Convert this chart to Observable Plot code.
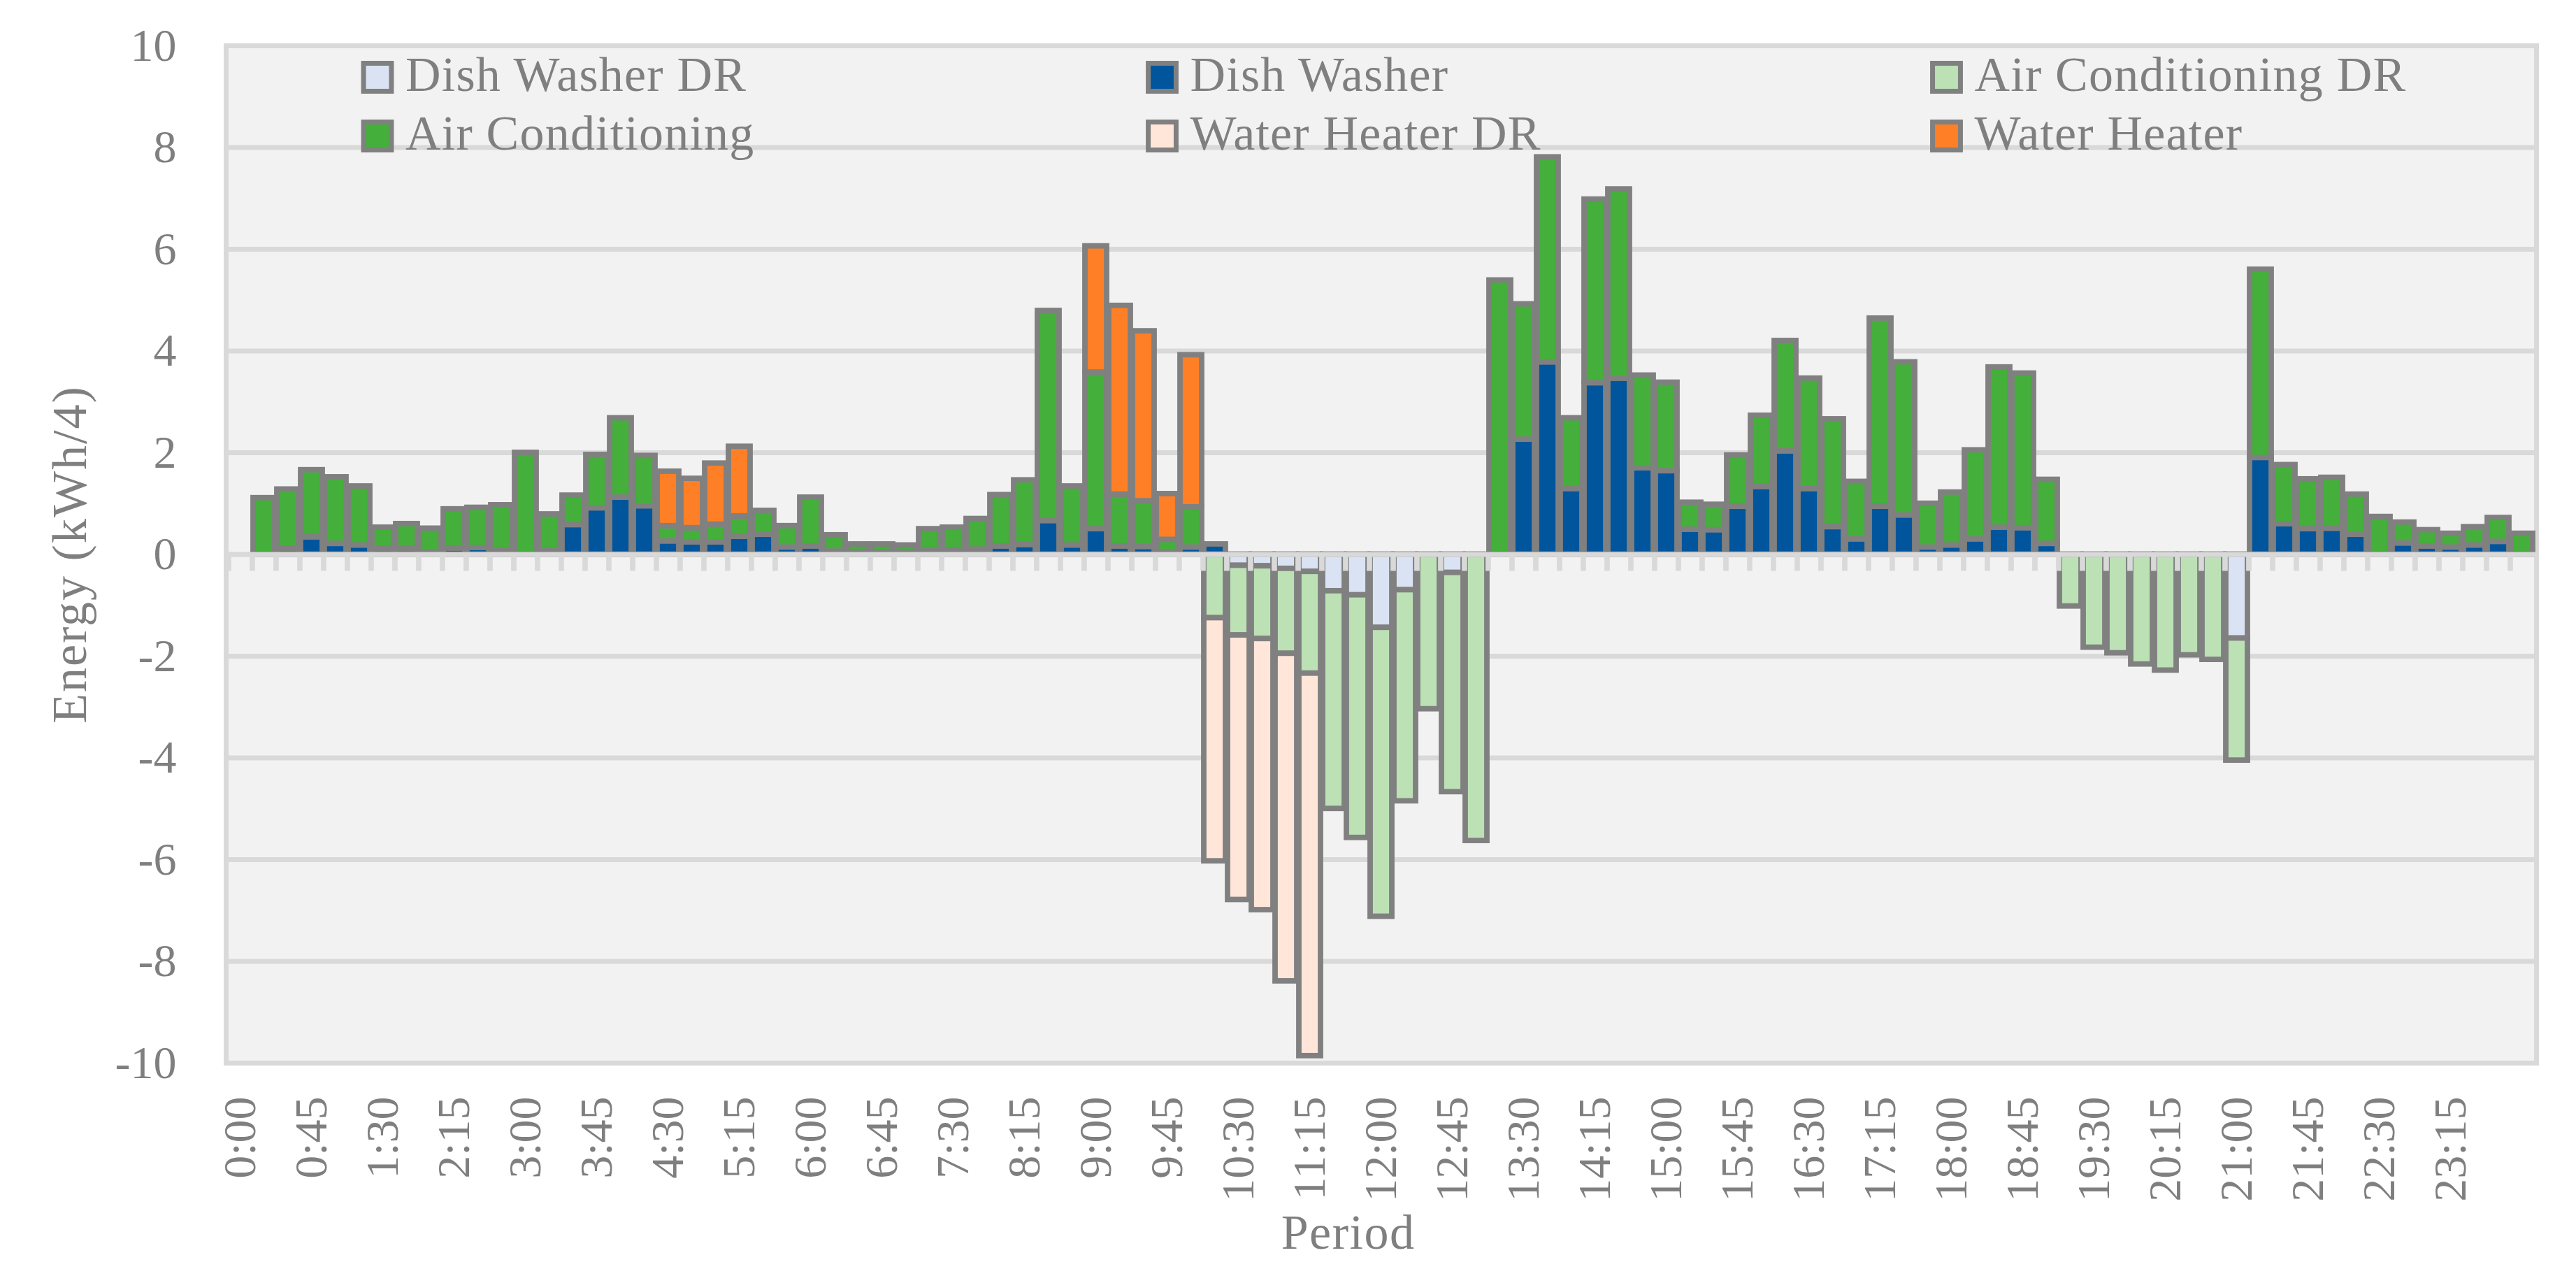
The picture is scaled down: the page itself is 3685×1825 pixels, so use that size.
<!DOCTYPE html>
<html>
<head>
<meta charset="utf-8">
<script src="https://cdn.jsdelivr.net/npm/d3@7"></script>
<script src="https://cdn.jsdelivr.net/npm/@observablehq/plot@0.6"></script>
<style>
  html, body { margin: 0; padding: 0; background: #ffffff; overflow: hidden; }
  #chart svg { display: block; }
</style>
</head>
<body>
<div id="chart"></div>
<script>
// ---------- categories (15-minute periods) ----------
const periods = ["0:00","0:15","0:30","0:45","1:00","1:15","1:30","1:45","2:00","2:15","2:30","2:45",
  "3:00","3:15","3:30","3:45","4:00","4:15","4:30","4:45","5:00","5:15","5:30","5:45",
  "6:00","6:15","6:30","6:45","7:00","7:15","7:30","7:45","8:00","8:15","8:30","8:45",
  "9:00","9:15","9:30","9:45","10:00","10:15","10:30","10:45","11:00","11:15","11:30","11:45",
  "12:00","12:15","12:30","12:45","13:00","13:15","13:30","13:45","14:00","14:15","14:30","14:45",
  "15:00","15:15","15:30","15:45","16:00","16:15","16:30","16:45","17:00","17:15","17:30","17:45",
  "18:00","18:15","18:30","18:45","19:00","19:15","19:30","19:45","20:00","20:15","20:30","20:45",
  "21:00","21:15","21:30","21:45","22:00","22:15","22:30","22:45","23:00","23:15","23:30","23:45","24:00"];

// tick labels shown on the x axis
const xTickLabels = ["0:00","0:45","1:30","2:15","3:00","3:45","4:30","5:15","6:00","6:45","7:30","8:15",
  "9:00","9:45","10:30","11:15","12:00","12:45","13:30","14:15","15:00","15:45","16:30","17:15",
  "18:00","18:45","19:30","20:15","21:00","21:45","22:30","23:15"];

const yTicks = [-10, -8, -6, -4, -2, 0, 2, 4, 6, 8, 10];

// ---------- series values (kWh/4), periods 0:15 ... 24:00 ----------
const dishWasherDR = [
  0,0,0,0,0,0,0,0,0,0,0,0,
  0,0,0,0,0,0,0,0,0,0,0,0,
  0,0,0,0,0,0,0,0,0,0,0,0,
  0,0,0,0,0,-0.22,-0.23,-0.28,-0.34,-0.72,-0.80,-1.44,
  -0.70,0,-0.36,0,0,0,0,0,0,0,0,0,
  0,0,0,0,0,0,0,0,0,0,0,0,
  0,0,0,0,0,0,0,0,0,0,0,-1.65,
  0,0,0,0,0,0,0,0,0,0,0,0];

const dishWasher = [
  0,0.11,0.34,0.21,0.18,0.11,0.11,0.04,0.12,0.13,0.07,0,
  0.07,0.58,0.91,1.12,0.95,0.26,0.24,0.24,0.35,0.39,0.14,0.16,
  0.06,0.03,0.03,0.03,0.07,0.09,0.10,0.16,0.19,0.66,0.18,0.50,
  0.16,0.15,0.04,0.14,0.20,0,0,0,0,0,0,0,
  0,0,0,0,0,2.26,3.78,1.29,3.37,3.46,1.70,1.64,
  0.49,0.48,0.94,1.33,2.03,1.29,0.54,0.30,0.94,0.77,0.14,0.18,
  0.30,0.53,0.52,0.21,0,0,0,0,0,0,0,0,
  1.90,0.60,0.50,0.51,0.39,0,0.22,0.16,0.14,0.18,0.25,0];

const airConditioningDR = [
  0,0,0,0,0,0,0,0,0,0,0,0,
  0,0,0,0,0,0,0,0,0,0,0,0,
  0,0,0,0,0,0,0,0,0,0,0,0,
  0,0,0,0,-1.25,-1.37,-1.43,-1.67,-2.00,-4.28,-4.77,-5.68,
  -4.15,-3.04,-4.31,-5.63,0,0,0,0,0,0,0,0,
  0,0,0,0,0,0,0,0,0,0,0,0,
  0,0,0,0,-1.02,-1.83,-1.94,-2.16,-2.28,-1.98,-2.07,-2.40,
  0,0,0,0,0,0,0,0,0,0,0,0];

const airConditioning = [
  1.11,1.17,1.32,1.31,1.16,0.42,0.49,0.47,0.77,0.79,0.90,2.00,
  0.72,0.58,1.05,1.56,0.99,0.30,0.28,0.35,0.40,0.47,0.42,0.96,
  0.32,0.17,0.17,0.15,0.43,0.44,0.60,1.01,1.27,4.13,1.16,3.08,
  1.02,0.90,0.25,0.79,0,0,0,0,0,0,0,0,
  0,0,0,0,5.39,2.66,4.03,1.39,3.61,3.72,1.82,1.74,
  0.53,0.50,1.01,1.40,2.17,2.17,2.12,1.13,3.70,3.01,0.86,1.04,
  1.75,3.15,3.04,1.26,0,0,0,0,0,0,0,0,
  3.70,1.16,0.98,1.00,0.79,0.74,0.41,0.32,0.27,0.36,0.47,0.41];

const waterHeaterDR = [
  0,0,0,0,0,0,0,0,0,0,0,0,
  0,0,0,0,0,0,0,0,0,0,0,0,
  0,0,0,0,0,0,0,0,0,0,0,0,
  0,0,0,0,-4.78,-5.20,-5.33,-6.44,-7.52,0,0,0,
  0,0,0,0,0,0,0,0,0,0,0,0,
  0,0,0,0,0,0,0,0,0,0,0,0,
  0,0,0,0,0,0,0,0,0,0,0,0,
  0,0,0,0,0,0,0,0,0,0,0,0];

const waterHeater = [
  0,0,0,0,0,0,0,0,0,0,0,0,
  0,0,0,0,0,1.07,0.97,1.20,1.37,0,0,0,
  0,0,0,0,0,0,0,0,0,0,0,2.48,
  3.71,3.34,0.90,2.99,0,0,0,0,0,0,0,0,
  0,0,0,0,0,0,0,0,0,0,0,0,
  0,0,0,0,0,0,0,0,0,0,0,0,
  0,0,0,0,0,0,0,0,0,0,0,0,
  0,0,0,0,0,0,0,0,0,0,0,0];

const seriesNames = ["Dish Washer DR", "Dish Washer", "Air Conditioning DR",
                     "Air Conditioning", "Water Heater DR", "Water Heater"];
const seriesColors = ["#dae3f3", "#00559c", "#bbe1b5", "#44af3b", "#ffe6d9", "#fe7f26"];
const seriesValues = [dishWasherDR, dishWasher, airConditioningDR, airConditioning, waterHeaterDR, waterHeater];

const yTitle = "Energy (kWh/4)";
const xTitle = "Period";

// long table (period, series, value)
const table = seriesNames.flatMap((name, s) =>
  seriesValues[s].map((v, i) => ({period: periods[i + 1], series: name, value: v}))
).filter(d => d.value !== 0);

// ---------- layout ----------
const W = 3685, H = 1825;
const mL = 323, mR = 57, mT = 65, mB = 305;
const step = (W - mL - mR) / periods.length;
const pxPerUnit = (H - mT - mB) / 20;
const tickLenData = 24 / pxPerUnit;
const textColor = "#7f7f7f";
const font = "'Liberation Serif', 'DejaVu Serif', serif";

// legend layout (pixel offsets from the frame's top-left corner)
const legendCol = [216.5, 1339, 2461];
const legendRow = [45, 129];

const legendMarks = seriesNames.flatMap((name, i) => {
  const cx = legendCol[i % 3], cy = legendRow[Math.floor(i / 3)];
  return [
    Plot.dot([name], {frameAnchor: "top-left", dx: cx, dy: cy, symbol: "square", r: 22.5,
      fill: seriesColors[i], stroke: "#808080", strokeWidth: 7}),
    Plot.text([name], {frameAnchor: "top-left", dx: cx + 40, dy: cy - 2.5, text: d => d,
      textAnchor: "start", lineAnchor: "middle", fontSize: 70, fill: textColor})
  ];
});

const chart = Plot.plot({
  width: W, height: H,
  marginLeft: mL, marginRight: mR, marginTop: mT, marginBottom: mB,
  style: {fontFamily: font, fontSize: "66px", color: textColor, background: "#ffffff"},
  x: {type: "band", domain: periods, paddingInner: 0.09, paddingOuter: 0.045},
  y: {domain: [-10, 10]},
  color: {domain: seriesNames, range: seriesColors},
  marks: [
    Plot.frame({fill: "#f2f2f2"}),
    Plot.ruleY(yTicks, {stroke: "#d9d9d9", strokeWidth: 7}),
    Plot.frame({stroke: "#d9d9d9", strokeWidth: 7}),
    Plot.barY(table, Plot.stackY({
      x: "period", y: "value", z: "series", fill: "series", order: seriesNames,
      stroke: "#808080", strokeWidth: 7.8
    })),
    Plot.ruleY([0], {stroke: "#d9d9d9", strokeWidth: 7}),
    Plot.ruleX(periods, {x: d => d, dx: -step / 2, y1: 0, y2: -tickLenData, stroke: "#d9d9d9", strokeWidth: 7.7}),
    Plot.axisY({ticks: yTicks, tickSize: 0, tickPadding: 71, tickFormat: d => String(d), label: null}),
    Plot.axisX({ticks: xTickLabels, tickRotate: -90, tickSize: 0, tickPadding: 48, label: null}),
    Plot.text([yTitle], {frameAnchor: "left", dx: -223, rotate: -90, text: d => d,
      textAnchor: "middle", fontSize: 70, fill: textColor, lineAnchor: "middle"}),
    Plot.text([xTitle], {frameAnchor: "bottom", dx: -47.5, dy: 243, text: d => d,
      textAnchor: "middle", fontSize: 70, fill: textColor, lineAnchor: "middle"}),
    ...legendMarks
  ]
});

// slightly wider letter spacing to approximate the original (Palatino-like) text widths
const spacing = new Map([...seriesNames.map(n => [n, "1.2px"]), [yTitle, "2px"], [xTitle, "1.5px"]]);
d3.select(chart).selectAll("text").each(function() {
  const s = spacing.get(this.textContent);
  if (s) this.style.letterSpacing = s;
});

document.getElementById("chart").appendChild(chart);
</script>
</body>
</html>
